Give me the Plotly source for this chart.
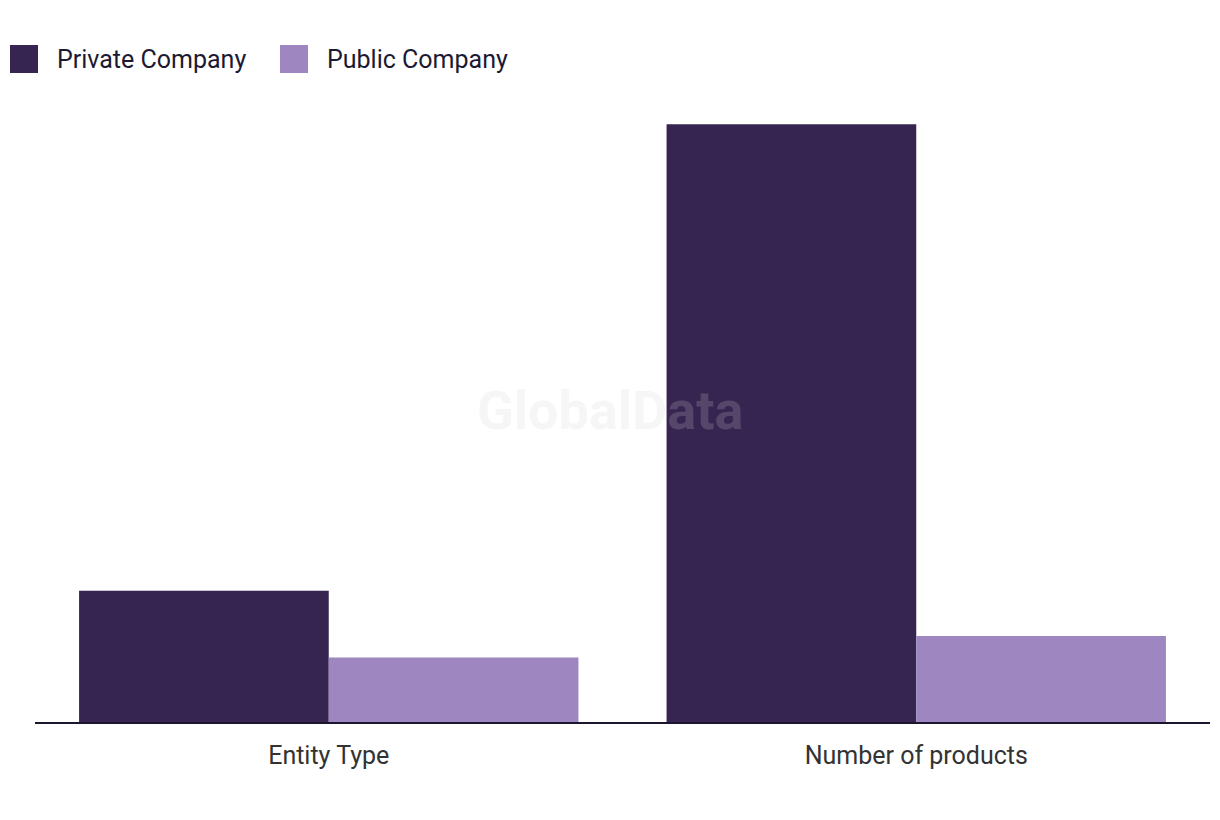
import plotly.graph_objects as go

categories = ["Entity Type", "Number of products"]
private_vals = [6.1, 27.8]
public_vals = [3.0, 4.0]
series_names = ["Private Company", "Public Company"]
colors = ["#372551", "#9e87c0"]

W, H = 1220, 820
OFF = 8  # page offset of the figure in the browser
ml, mr, mt, mb = 27, 18, 69, 106
pw = W - ml - mr
ph = H - mt - mb

def px2paper_x(px):
    return (px - OFF - ml) / pw

def px2paper_y(py):
    return (H - mb - (py - OFF)) / ph

fig = go.Figure()
for name, vals, col in zip(series_names, [private_vals, public_vals], colors):
    fig.add_trace(go.Bar(x=categories, y=vals, name=name, marker_color=col,
                         marker_line_width=0, showlegend=False))

fig.update_layout(
    width=W, height=H,
    margin=dict(l=ml, r=mr, t=mt, b=mb),
    paper_bgcolor="white", plot_bgcolor="white",
    barmode="group", bargap=0.15, bargroupgap=0,
    font=dict(family="Roboto, sans-serif", color="#333333"),
    xaxis=dict(showline=True, linecolor="#1b1530", linewidth=2, ticks="",
               tickfont=dict(size=25, color="#333333", family="Roboto"),
               ticklabelstandoff=10,
               showgrid=False, zeroline=False),
    yaxis=dict(range=[0, 30], showticklabels=False, showgrid=False,
               zeroline=False, showline=False, ticks=""),
)

# custom legend
legend_items = [(10, 55), (280, 325)]
for (sx, tx), name, col in zip(legend_items, series_names, colors):
    fig.add_shape(type="rect", xref="paper", yref="paper",
                  x0=px2paper_x(sx), x1=px2paper_x(sx + 28),
                  y0=px2paper_y(73), y1=px2paper_y(45),
                  fillcolor=col, line_width=0)
    fig.add_annotation(xref="paper", yref="paper", x=px2paper_x(tx),
                       y=px2paper_y(59), text=name, showarrow=False,
                       xanchor="left", yanchor="middle",
                       font=dict(size=25, color="#1c1a33", family="Roboto"))

# watermark
fig.add_annotation(xref="paper", yref="paper", x=px2paper_x(610), y=px2paper_y(410),
                   text="<b>GlobalData</b>", showarrow=False,
                   font=dict(size=54, color="rgba(210,210,210,0.2)", family="Roboto"))

fig.write_html("out.html")
